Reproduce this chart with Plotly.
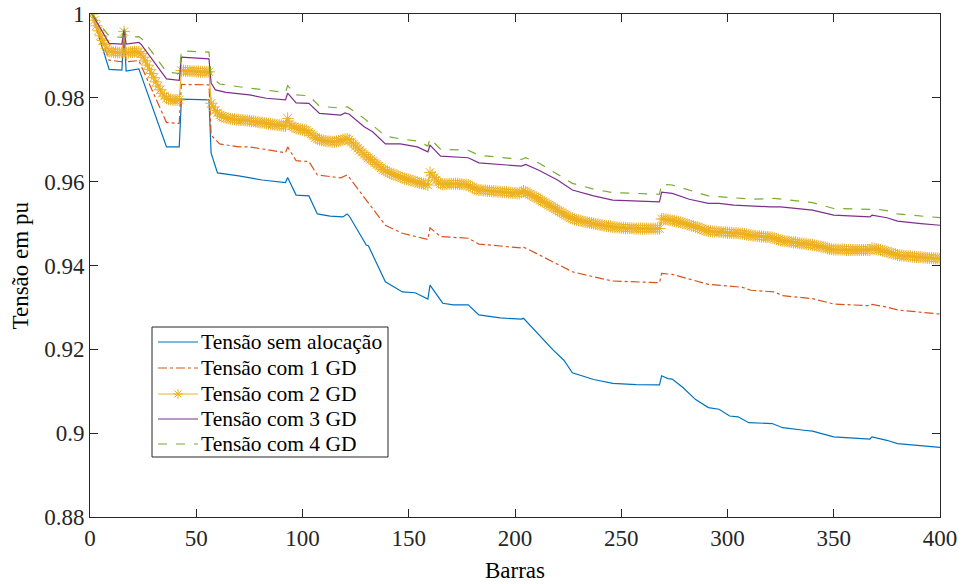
import plotly.graph_objects as go

# ---- data ----
# Tensão sem alocação (bar, value) breakpoints
bars_sem = [1, 9, 15, 16, 17, 23, 36, 42, 43, 56, 57, 60, 70, 81, 92, 93, 97, 103, 107, 113, 119, 121, 122,
            130, 131, 139, 147, 153, 159, 160, 166, 171, 178, 183, 193, 203, 204, 210, 218, 223, 227, 237,
            246, 257, 268, 269, 272, 274, 279, 285, 291, 296, 301, 305, 310, 321, 326, 336, 340, 350, 367,
            368, 375, 380, 391, 400]
v_sem = [1.0, 0.9868, 0.9866, 0.9955, 0.9864, 0.9869, 0.9683, 0.9683, 0.9797, 0.9795, 0.9668, 0.9621, 0.9614,
         0.9604, 0.9598, 0.9610, 0.9568, 0.9566, 0.9523, 0.9518, 0.9516, 0.9523, 0.9518, 0.9449, 0.9447,
         0.9361, 0.9337, 0.9335, 0.9320, 0.9353, 0.9310, 0.9306, 0.9306, 0.9282, 0.9275, 0.9272, 0.9274,
         0.9242, 0.9198, 0.9174, 0.9144, 0.9128, 0.9119, 0.9116, 0.9115, 0.9137, 0.9130, 0.9129, 0.9109,
         0.9080, 0.9061, 0.9057, 0.9041, 0.9039, 0.9025, 0.9023, 0.9013, 0.9007, 0.9005, 0.8991, 0.8986,
         0.8991, 0.8983, 0.8975, 0.8970, 0.8966]

# Tensão com 1 GD
bars_1gd = [1, 9, 15, 16, 17, 23, 36, 42, 43, 56, 57, 61, 70, 75, 92, 93, 97, 103, 107, 118, 121, 122, 130,
            139, 147, 159, 160, 165, 178, 183, 203, 204, 210, 227, 237, 246, 268, 269, 274, 291, 307, 311,
            322, 326, 340, 350, 367, 368, 375, 380, 400]
v_1gd = [1.0, 0.9890, 0.9886, 0.9960, 0.9886, 0.9889, 0.9741, 0.9739, 0.9832, 0.9831, 0.9711, 0.9690, 0.9683,
         0.9683, 0.9669, 0.9683, 0.9650, 0.9648, 0.9616, 0.9609, 0.9616, 0.9610, 0.9556, 0.9496, 0.9477,
         0.9462, 0.9490, 0.9469, 0.9465, 0.9451, 0.9442, 0.9444, 0.9429, 0.9385, 0.9373, 0.9363, 0.9359,
         0.9381, 0.9379, 0.9355, 0.9348, 0.9341, 0.9337, 0.9328, 0.9321, 0.9308, 0.9304, 0.9307, 0.9301,
         0.9294, 0.9284]

# Tensão com 2 GD (one value per bar, bars 1..400)
v_2gd = [
    1.0000, 0.9985, 0.9972, 0.9960, 0.9948, 0.9937, 0.9927, 0.9918, 0.9911, 0.9910,
    0.9909, 0.9909, 0.9908, 0.9908, 0.9908, 0.9958, 0.9908, 0.9908, 0.9909, 0.9909,
    0.9910, 0.9910, 0.9910, 0.9905, 0.9897, 0.9888, 0.9878, 0.9868, 0.9858, 0.9848,
    0.9838, 0.9828, 0.9819, 0.9811, 0.9804, 0.9799, 0.9797, 0.9796, 0.9795, 0.9795,
    0.9795, 0.9795, 0.9865, 0.9865, 0.9864, 0.9864, 0.9864, 0.9863, 0.9863, 0.9863,
    0.9863, 0.9862, 0.9862, 0.9862, 0.9862, 0.9862, 0.9787, 0.9778, 0.9770, 0.9764,
    0.9759, 0.9756, 0.9754, 0.9752, 0.9751, 0.9750, 0.9749, 0.9749, 0.9748, 0.9748,
    0.9747, 0.9747, 0.9746, 0.9746, 0.9745, 0.9744, 0.9744, 0.9743, 0.9742, 0.9741,
    0.9741, 0.9740, 0.9739, 0.9738, 0.9738, 0.9737, 0.9736, 0.9735, 0.9735, 0.9734,
    0.9733, 0.9733, 0.9751, 0.9738, 0.9733, 0.9730, 0.9727, 0.9726, 0.9725, 0.9724,
    0.9723, 0.9722, 0.9718, 0.9714, 0.9710, 0.9705, 0.9702, 0.9700, 0.9699, 0.9698,
    0.9697, 0.9696, 0.9696, 0.9695, 0.9695, 0.9696, 0.9697, 0.9698, 0.9700, 0.9701,
    0.9702, 0.9700, 0.9694, 0.9690, 0.9685, 0.9680, 0.9675, 0.9670, 0.9665, 0.9661,
    0.9657, 0.9653, 0.9649, 0.9645, 0.9641, 0.9637, 0.9633, 0.9629, 0.9626, 0.9623,
    0.9621, 0.9619, 0.9617, 0.9615, 0.9613, 0.9611, 0.9609, 0.9607, 0.9606, 0.9605,
    0.9603, 0.9602, 0.9600, 0.9599, 0.9597, 0.9596, 0.9595, 0.9594, 0.9592, 0.9622,
    0.9616, 0.9610, 0.9604, 0.9599, 0.9595, 0.9593, 0.9594, 0.9594, 0.9595, 0.9595,
    0.9595, 0.9595, 0.9595, 0.9594, 0.9594, 0.9593, 0.9593, 0.9592, 0.9589, 0.9586,
    0.9583, 0.9581, 0.9580, 0.9580, 0.9579, 0.9579, 0.9578, 0.9578, 0.9577, 0.9577,
    0.9577, 0.9576, 0.9576, 0.9575, 0.9575, 0.9575, 0.9574, 0.9574, 0.9573, 0.9573,
    0.9572, 0.9572, 0.9575, 0.9578, 0.9576, 0.9573, 0.9570, 0.9567, 0.9564, 0.9562,
    0.9559, 0.9556, 0.9553, 0.9550, 0.9547, 0.9544, 0.9541, 0.9538, 0.9535, 0.9532,
    0.9529, 0.9526, 0.9523, 0.9520, 0.9517, 0.9514, 0.9512, 0.9510, 0.9509, 0.9508,
    0.9507, 0.9505, 0.9504, 0.9503, 0.9502, 0.9501, 0.9500, 0.9499, 0.9498, 0.9497,
    0.9496, 0.9495, 0.9494, 0.9494, 0.9493, 0.9492, 0.9491, 0.9491, 0.9490, 0.9490,
    0.9490, 0.9489, 0.9489, 0.9489, 0.9489, 0.9488, 0.9488, 0.9488, 0.9488, 0.9488,
    0.9488, 0.9488, 0.9488, 0.9488, 0.9488, 0.9488, 0.9488, 0.9488, 0.9511, 0.9511,
    0.9510, 0.9509, 0.9508, 0.9507, 0.9506, 0.9505, 0.9504, 0.9503, 0.9501, 0.9500,
    0.9498, 0.9497, 0.9495, 0.9494, 0.9492, 0.9491, 0.9489, 0.9487, 0.9485, 0.9483,
    0.9482, 0.9482, 0.9481, 0.9481, 0.9481, 0.9480, 0.9480, 0.9479, 0.9479, 0.9478,
    0.9478, 0.9478, 0.9477, 0.9477, 0.9477, 0.9476, 0.9476, 0.9475, 0.9474, 0.9473,
    0.9472, 0.9471, 0.9471, 0.9470, 0.9470, 0.9469, 0.9469, 0.9468, 0.9468, 0.9467,
    0.9467, 0.9465, 0.9463, 0.9462, 0.9460, 0.9459, 0.9458, 0.9458, 0.9457, 0.9456,
    0.9455, 0.9455, 0.9454, 0.9453, 0.9452, 0.9452, 0.9451, 0.9450, 0.9450, 0.9449,
    0.9448, 0.9447, 0.9446, 0.9445, 0.9444, 0.9443, 0.9441, 0.9440, 0.9439, 0.9438,
    0.9438, 0.9438, 0.9438, 0.9438, 0.9438, 0.9437, 0.9437, 0.9437, 0.9437, 0.9437,
    0.9437, 0.9437, 0.9437, 0.9437, 0.9437, 0.9437, 0.9437, 0.9441, 0.9440, 0.9439,
    0.9438, 0.9437, 0.9435, 0.9434, 0.9433, 0.9431, 0.9430, 0.9428, 0.9427, 0.9425,
    0.9424, 0.9424, 0.9423, 0.9423, 0.9422, 0.9422, 0.9421, 0.9421, 0.9420, 0.9420,
    0.9420, 0.9419, 0.9419, 0.9418, 0.9418, 0.9418, 0.9417, 0.9417, 0.9417, 0.9416,
]
bars_2gd = list(range(1, len(v_2gd) + 1))

# Tensão com 3 GD
bars_3gd = [1, 9, 15, 16, 17, 23, 24, 36, 42, 43, 56, 57, 59, 64, 75, 83, 92, 93, 97, 103, 108, 118, 120, 122,
            129, 133, 139, 146, 154, 159, 160, 165, 178, 183, 203, 205, 211, 220, 227, 237, 246, 257, 268,
            269, 274, 282, 291, 296, 303, 320, 325, 340, 350, 367, 368, 375, 380, 391, 400]
v_3gd = [1.0, 0.9930, 0.9928, 0.9962, 0.9928, 0.9932, 0.9928, 0.9845, 0.9842, 0.9897, 0.9893, 0.9835, 0.9819,
         0.9813, 0.9807, 0.9799, 0.9795, 0.9811, 0.9788, 0.9787, 0.9763, 0.9759, 0.9764, 0.9761, 0.9731,
         0.9719, 0.9690, 0.9690, 0.9683, 0.9671, 0.9687, 0.9661, 0.9657, 0.9645, 0.9637, 0.9641, 0.9628,
         0.9604, 0.9580, 0.9566, 0.9556, 0.9554, 0.9552, 0.9575, 0.9572, 0.9558, 0.9548, 0.9548, 0.9544,
         0.9540, 0.9540, 0.9532, 0.9520, 0.9516, 0.9520, 0.9514, 0.9506, 0.9500, 0.9496]

# Tensão com 4 GD
bars_4gd = [1, 9, 15, 16, 17, 23, 25, 36, 42, 43, 56, 57, 61, 75, 92, 93, 97, 103, 108, 119, 121, 129, 139,
            146, 154, 159, 160, 165, 178, 183, 203, 205, 211, 227, 237, 246, 268, 269, 274, 291, 312, 322,
            340, 350, 367, 368, 375, 380, 400]
v_4gd = [1.0, 0.9947, 0.9944, 0.9970, 0.9944, 0.9946, 0.9938, 0.9862, 0.9858, 0.9912, 0.9909, 0.9850, 0.9833,
         0.9823, 0.9813, 0.9829, 0.9807, 0.9805, 0.9780, 0.9775, 0.9779, 0.9751, 0.9709, 0.9702, 0.9697,
         0.9685, 0.9703, 0.9677, 0.9675, 0.9663, 0.9653, 0.9657, 0.9645, 0.9596, 0.9582, 0.9574, 0.9570,
         0.9594, 0.9592, 0.9566, 0.9558, 0.9560, 0.9550, 0.9536, 0.9534, 0.9536, 0.9531, 0.9523, 0.9514]

names = ["Tensão sem alocação", "Tensão com 1 GD", "Tensão com 2 GD", "Tensão com 3 GD", "Tensão com 4 GD"]
y_ticks = [0.88, 0.90, 0.92, 0.94, 0.96, 0.98, 1.00]
y_tick_labels = ["0.88", "0.9", "0.92", "0.94", "0.96", "0.98", "1"]
x_ticks = [0, 50, 100, 150, 200, 250, 300, 350, 400]
x_title = "Barras"
y_title = "Tensão em pu"

FONT = "'Liberation Serif', 'Times New Roman', Times, 'DejaVu Serif', serif"
LEG_FONT = "Liberation Serif"
AX = "#262626"
colors = ["#0072BD", "#D95319", "#EDB120", "#7E2F8E", "#77AC30"]
dashes = ["solid", "dashdot", "solid", "solid", "dash"]

fig = go.Figure()
series = [(bars_sem, v_sem), (bars_1gd, v_1gd), (bars_2gd, v_2gd), (bars_3gd, v_3gd), (bars_4gd, v_4gd)]
for i, (xs, ys) in enumerate(series):
    if i == 2:
        fig.add_trace(go.Scatter(x=xs, y=ys, mode="lines+markers", name=names[i], showlegend=False,
                                 line=dict(color=colors[i], width=1.2),
                                 marker=dict(symbol="asterisk-open", size=10, color=colors[i],
                                             line=dict(color=colors[i], width=1))))
    else:
        fig.add_trace(go.Scatter(x=xs, y=ys, mode="lines", name=names[i], showlegend=False,
                                 line=dict(color=colors[i], width=1.2, dash=dashes[i])))

# ---- hand-drawn legend box (paper coordinates derived from the plot-area pixel frame) ----
L, R, T, B = 90, 940, 14, 517   # plot area in pixels
def px(xp):
    return (xp - L) / (R - L)
def py(yp):
    return (B - yp) / (B - T)

shapes = [dict(type="rect", xref="paper", yref="paper", x0=px(152), x1=px(388), y0=py(457), y1=py(327),
               line=dict(color=AX, width=1), fillcolor="white", layer="above")]
annotations = []
row_y = [342, 368, 394, 419, 444]
for i, name in enumerate(names):
    yy = py(row_y[i])
    shapes.append(dict(type="line", xref="paper", yref="paper", x0=px(158), x1=px(198), y0=yy, y1=yy,
                       line=dict(color=colors[i], width=1.2, dash=dashes[i]), layer="above"))
    if i == 2:
        shapes.append(dict(type="path", xref="paper", yref="paper", xsizemode="pixel", ysizemode="pixel",
                           xanchor=px(178), yanchor=yy,
                           path="M -5 0 L 5 0 M 0 -5 L 0 5 M -3.5 -3.5 L 3.5 3.5 M -3.5 3.5 L 3.5 -3.5",
                           line=dict(color=colors[i], width=1), layer="above"))
    annotations.append(dict(text=name, xref="paper", yref="paper", x=px(199), y=yy, xanchor="left",
                            yanchor="middle", showarrow=False,
                            font=dict(family=LEG_FONT, size=21.5, color="black")))

annotations += [
    dict(text=x_title, xref="paper", yref="paper", x=0.5, y=0, xanchor="center", yanchor="middle",
         yshift=-53, showarrow=False, font=dict(family=FONT, size=23, color="black")),
    dict(text=y_title, xref="paper", yref="paper", x=0, y=0.5, xanchor="center", yanchor="middle",
         xshift=-70, textangle=-90, showarrow=False, font=dict(family=FONT, size=23, color="black")),
]

fig.update_layout(
    width=964, height=584,
    margin=dict(l=L, r=964 - R, t=T, b=584 - B),
    paper_bgcolor="white", plot_bgcolor="white",
    font=dict(family=FONT, size=23, color=AX),
    showlegend=False,
    shapes=shapes,
    annotations=annotations,
)
fig.update_xaxes(range=[0, 400], tickvals=x_ticks, ticks="inside", ticklen=8, tickcolor=AX,
                 showline=True, linecolor=AX, linewidth=1, mirror="ticks", showgrid=False,
                 zeroline=False, automargin=False,
                 tickfont=dict(family=FONT, size=23, color=AX))
fig.update_yaxes(range=[0.88, 1.0], tickvals=y_ticks, ticktext=y_tick_labels, ticks="inside", ticklen=8,
                 tickcolor=AX, showline=True, linecolor=AX, linewidth=1, mirror="ticks", showgrid=False,
                 zeroline=False, automargin=False,
                 tickfont=dict(family=FONT, size=23, color=AX))

fig.write_html("out.html")
